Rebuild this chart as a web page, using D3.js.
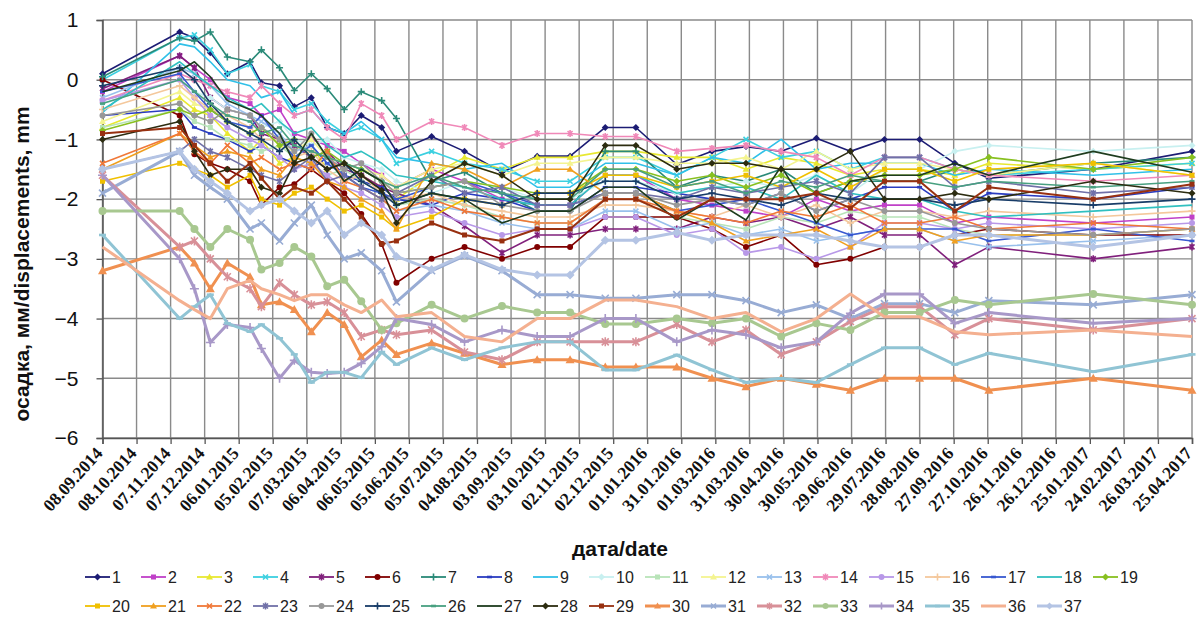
<!DOCTYPE html>
<html lang="ru">
<head>
<meta charset="UTF-8">
<title>Осадка</title>
<script src="https://d3js.org/d3.v7.min.js"></script>
<style>
  body { margin: 0; background: #fff; }
  svg { display: block; font-family: Arial, "Liberation Sans", sans-serif; }
</style>
</head>
<body>
<svg id="chart" width="1197" height="619"></svg>
<script>
// axis ticks (every 30 days)
const tickLabels = ['08.09.2014','08.10.2014','07.11.2014','07.12.2014','06.01.2015','05.02.2015','07.03.2015',
  '06.04.2015','06.05.2015','05.06.2015','05.07.2015','04.08.2015','03.09.2015','03.10.2015','02.11.2015',
  '02.12.2015','01.01.2016','31.01.2016','01.03.2016','31.03.2016','30.04.2016','30.05.2016','29.06.2016',
  '29.07.2016','28.08.2016','27.09.2016','27.10.2016','26.11.2016','26.12.2016','25.01.2017','24.02.2017',
  '26.03.2017','25.04.2017'];
const yTicks = [1, 0, -1, -2, -3, -4, -5, -6];

// measurement dates
const measureDates = ['08.09.2014','15.11.2014','28.11.2014','12.12.2014','27.12.2014','16.01.2015','26.01.2015',
  '11.02.2015','24.02.2015','11.03.2015','25.03.2015','09.04.2015','24.04.2015','12.05.2015','25.05.2015',
  '25.06.2015','24.07.2015','26.08.2015','26.09.2015','25.10.2015','25.11.2015','22.12.2015','27.01.2016',
  '27.02.2016','28.03.2016','28.04.2016','29.05.2016','28.06.2016','28.07.2016','28.08.2016','28.09.2016',
  '28.10.2016','28.01.2017','25.04.2017'];

// settlement, mm (one array per mark)
const s1  = [0.1,0.8,0.7,0.45,0.1,0.3,-0.05,-0.1,-0.45,-0.3,-0.8,-0.9,-0.6,-0.8,-1.2,-0.95,-1.2,-1.55,-1.28,-1.28,-0.8,-0.8,-1.42,-1.2,-1.12,-1.2,-0.98,-1.2,-1.0,-1.0,-1.4,-1.65,-1.5,-1.2];
const s2  = [-0.2,0.4,0.2,0.0,-0.3,-0.4,-0.6,-0.5,-0.9,-1.0,-1.1,-1.2,-1.4,-1.6,-1.8,-1.5,-1.7,-2.0,-2.1,-2.1,-1.6,-1.6,-2.0,-2.1,-2.2,-2.3,-2.0,-2.2,-2.1,-2.1,-2.4,-2.3,-2.4,-2.3];
const s3  = [-0.8,-0.3,-0.5,-0.6,-0.9,-1.2,-1.0,-1.4,-1.3,-1.1,-1.5,-1.4,-1.6,-1.8,-2.0,-1.6,-1.3,-1.5,-1.3,-1.3,-1.2,-1.2,-1.3,-1.3,-1.5,-1.3,-1.4,-1.6,-1.5,-1.5,-1.6,-1.4,-1.5,-1.4];
const s4  = [0.0,0.7,0.75,0.5,0.1,0.25,-0.1,-0.2,-0.5,-0.4,-0.7,-0.9,-0.8,-1.0,-1.4,-1.2,-1.4,-1.5,-1.7,-1.7,-1.3,-1.3,-1.6,-1.3,-1.0,-1.3,-1.2,-1.5,-1.3,-1.3,-1.5,-1.6,-1.5,-1.4];
const s5  = [-0.15,0.4,0.2,-0.3,-0.5,-0.6,-0.9,-1.0,-1.1,-1.3,-1.2,-1.5,-1.6,-1.8,-1.9,-2.1,-2.45,-2.9,-2.6,-2.6,-2.5,-2.5,-2.5,-2.3,-2.4,-2.3,-2.5,-2.3,-2.6,-2.6,-3.1,-2.8,-3.0,-2.8];
const s6  = [0.0,-0.6,-1.25,-1.4,-1.5,-1.7,-2.1,-1.8,-1.75,-1.5,-1.7,-1.9,-2.25,-2.75,-3.4,-3.0,-2.8,-3.0,-2.8,-2.8,-2.3,-2.3,-2.3,-2.5,-2.8,-2.6,-3.1,-3.0,-2.8,-2.8,-2.6,-2.5,-2.6,-2.6];
const s7  = [0.05,0.7,0.65,0.8,0.38,0.3,0.5,0.2,-0.18,0.1,-0.15,-0.5,-0.2,-0.35,-0.65,-1.7,-1.55,-1.9,-2.2,-2.2,-1.2,-1.2,-1.8,-1.6,-1.7,-1.5,-1.9,-1.7,-1.7,-1.7,-1.5,-1.6,-1.4,-1.3];
const s8  = [-0.6,-0.5,-0.8,-0.9,-1.0,-1.2,-1.1,-1.3,-1.4,-1.5,-1.3,-1.6,-1.7,-1.8,-2.0,-2.1,-1.9,-2.0,-2.2,-2.2,-1.8,-1.8,-1.9,-2.0,-2.1,-1.9,-2.2,-2.0,-1.8,-1.8,-2.2,-1.9,-2.0,-1.8];
const s9  = [-0.55,0.6,0.55,0.3,0.0,-0.1,-0.3,-0.2,-0.6,-0.5,-0.8,-0.9,-0.7,-1.0,-1.3,-1.4,-1.5,-1.4,-1.8,-1.8,-1.4,-1.4,-1.6,-1.3,-1.4,-1.0,-1.5,-1.4,-1.4,-1.4,-1.6,-1.5,-1.6,-1.5];
const s10 = [-0.4,0.0,-0.2,-0.3,-0.5,-0.6,-0.8,-0.7,-1.0,-1.1,-1.0,-1.3,-1.4,-1.5,-1.7,-1.9,-1.7,-1.8,-2.0,-2.0,-1.7,-1.7,-1.9,-1.8,-1.7,-1.8,-1.6,-1.9,-1.5,-1.5,-1.2,-1.1,-1.2,-1.1];
const s11 = [-0.8,-0.5,-0.7,-0.8,-1.0,-1.1,-1.2,-1.1,-1.3,-1.4,-1.6,-1.5,-1.7,-1.9,-2.1,-2.0,-2.1,-2.3,-2.4,-2.4,-2.0,-2.0,-2.3,-2.4,-2.5,-2.3,-2.4,-2.2,-2.3,-2.3,-2.5,-2.6,-2.6,-2.5];
const s12 = [-0.7,-0.2,-0.4,-0.5,-0.7,-0.9,-0.8,-1.1,-1.2,-1.0,-1.3,-1.4,-1.5,-1.6,-1.8,-1.5,-1.4,-1.6,-1.4,-1.4,-1.3,-1.3,-1.4,-1.4,-1.3,-1.5,-1.2,-1.5,-1.4,-1.4,-1.5,-1.6,-1.4,-1.6];
const s13 = [-0.3,0.2,0.1,-0.1,-0.4,-0.6,-0.7,-0.9,-1.2,-1.1,-1.4,-1.6,-1.8,-2.0,-2.2,-2.1,-2.2,-2.4,-2.5,-2.5,-2.2,-2.2,-2.5,-2.4,-2.6,-2.5,-2.7,-2.6,-2.5,-2.5,-2.7,-2.8,-2.7,-2.6];
const s14 = [-0.35,0.1,0.0,-0.1,-0.2,-0.3,-0.1,-0.4,-0.6,-0.5,-0.8,-1.0,-0.4,-0.6,-1.0,-0.7,-0.8,-1.1,-0.9,-0.9,-0.95,-0.95,-1.2,-1.15,-1.1,-1.2,-1.3,-1.6,-1.3,-1.3,-1.5,-1.6,-1.7,-1.6];
const s15 = [-0.35,0.0,-0.3,-0.6,-0.8,-1.0,-1.1,-1.3,-1.5,-1.4,-1.6,-1.8,-1.9,-2.1,-2.3,-2.2,-2.4,-2.6,-2.5,-2.5,-2.3,-2.3,-2.6,-2.5,-2.9,-2.8,-3.0,-2.8,-2.4,-2.4,-2.5,-2.4,-2.5,-2.4];
const s16 = [-0.5,-0.1,-0.3,-0.5,-0.6,-0.8,-1.0,-1.0,-1.3,-1.2,-1.5,-1.7,-1.6,-1.9,-2.0,-1.9,-2.1,-2.2,-2.3,-2.3,-2.1,-2.1,-2.2,-2.3,-2.1,-2.3,-2.1,-2.4,-2.2,-2.2,-2.3,-2.2,-2.3,-2.2];
const s17 = [-0.2,0.1,-0.2,-0.5,-0.7,-0.8,-0.6,-1.0,-1.3,-1.1,-1.4,-1.6,-1.8,-1.9,-2.0,-1.8,-1.7,-1.9,-2.1,-2.1,-1.9,-1.9,-2.2,-2.1,-2.0,-2.2,-2.4,-2.6,-2.5,-2.5,-2.5,-2.7,-2.5,-2.7];
const s18 = [-0.5,0.3,0.1,-0.1,-0.3,-0.5,-0.4,-0.7,-0.9,-0.8,-1.1,-1.3,-1.2,-1.4,-1.6,-1.7,-1.8,-2.0,-2.1,-2.1,-1.6,-1.6,-1.9,-1.8,-1.8,-2.0,-1.6,-1.9,-2.0,-2.0,-2.2,-2.3,-2.2,-2.1];
const s19 = [-0.85,-0.5,-0.6,-0.5,-0.7,-0.9,-0.8,-1.1,-1.0,-1.3,-1.2,-1.4,-1.5,-1.7,-1.9,-1.8,-1.7,-1.8,-1.9,-1.9,-1.5,-1.5,-1.7,-1.6,-1.8,-1.6,-1.9,-1.7,-1.6,-1.6,-1.5,-1.3,-1.5,-1.3];
const s20 = [-1.7,-1.4,-1.5,-1.6,-1.8,-1.6,-2.0,-2.1,-1.9,-1.8,-2.0,-2.2,-2.1,-2.3,-2.5,-2.3,-2.0,-2.1,-1.9,-1.9,-1.6,-1.6,-1.8,-1.7,-1.6,-1.8,-1.5,-1.8,-1.5,-1.5,-1.7,-1.5,-1.4,-1.6];
const s21 = [-1.5,-0.9,-1.1,-1.3,-1.2,-1.3,-1.5,-1.6,-1.3,-1.4,-1.7,-1.8,-2.0,-2.2,-2.5,-1.4,-1.5,-1.8,-1.5,-1.5,-1.9,-1.9,-2.2,-2.4,-2.7,-2.6,-2.5,-2.8,-2.5,-2.5,-2.7,-2.6,-2.6,-2.5];
const s22 = [-1.4,-0.9,-1.2,-1.4,-1.1,-1.4,-1.3,-1.5,-1.4,-1.5,-1.2,-1.7,-1.8,-2.0,-2.2,-2.0,-2.2,-2.3,-2.4,-2.4,-2.0,-2.0,-2.2,-2.3,-2.4,-2.2,-2.3,-2.1,-2.4,-2.4,-2.3,-2.5,-2.4,-2.5];
const s23 = [-1.5,-1.2,-1.0,-1.2,-1.3,-1.5,-1.6,-1.7,-1.5,-1.3,-1.7,-1.6,-1.8,-2.0,-1.9,-1.6,-1.9,-1.8,-2.1,-2.1,-1.9,-1.9,-2.0,-1.8,-1.9,-1.8,-1.7,-1.9,-1.3,-1.3,-1.8,-1.7,-1.9,-1.8];
const s24 = [-0.6,-0.4,-0.6,-0.7,-0.5,-0.6,-0.8,-1.0,-1.2,-0.9,-1.3,-1.5,-1.4,-1.7,-1.9,-1.8,-1.7,-2.1,-2.2,-2.2,-1.9,-1.9,-2.1,-2.0,-2.1,-1.9,-2.2,-2.0,-2.2,-2.2,-2.4,-2.5,-2.6,-2.5];
const s25 = [-0.1,0.2,0.0,-0.4,-0.7,-0.9,-1.0,-1.2,-1.0,-1.3,-1.5,-1.4,-1.7,-1.9,-2.1,-1.9,-2.0,-2.1,-1.9,-1.9,-1.7,-1.7,-2.0,-1.9,-2.0,-2.1,-1.9,-2.0,-2.0,-2.0,-2.1,-2.0,-2.1,-2.0];
const s26 = [-0.4,0.0,-0.2,-0.4,-0.6,-0.7,-0.9,-0.8,-1.1,-1.2,-1.3,-1.4,-1.5,-1.7,-1.8,-1.6,-1.8,-1.9,-2.0,-2.0,-1.5,-1.5,-1.8,-1.7,-1.9,-1.7,-1.8,-1.6,-1.7,-1.7,-1.8,-1.7,-1.8,-1.7];
const s27 = [-0.2,0.15,0.3,0.05,-0.35,-0.5,-0.6,-0.9,-1.4,-0.9,-1.3,-1.7,-1.5,-1.7,-2.1,-1.9,-2.0,-2.4,-2.2,-2.2,-1.8,-1.8,-2.35,-2.0,-2.35,-1.45,-2.4,-1.7,-1.6,-1.6,-1.4,-1.6,-1.2,-1.55];
const s28 = [-1.0,-0.7,-1.2,-1.6,-1.5,-1.5,-1.8,-1.9,-1.4,-1.3,-1.5,-1.4,-1.6,-1.85,-2.4,-1.7,-1.4,-1.6,-2.0,-2.0,-1.1,-1.1,-1.5,-1.4,-1.4,-1.5,-1.5,-1.2,-2.0,-2.0,-1.9,-2.0,-1.7,-1.9];
const s29 = [-0.9,-0.8,-1.1,-1.4,-1.7,-1.4,-1.65,-2.0,-1.8,-1.9,-1.7,-2.0,-2.3,-2.75,-2.7,-2.4,-2.6,-2.7,-2.5,-2.5,-2.0,-2.0,-2.3,-2.0,-2.0,-2.0,-1.9,-2.15,-1.7,-1.7,-2.2,-1.8,-2.0,-1.75];
const s30 = [-3.2,-2.8,-3.07,-3.5,-3.07,-3.3,-3.77,-3.72,-3.85,-4.22,-3.9,-4.1,-4.64,-4.36,-4.6,-4.41,-4.58,-4.77,-4.69,-4.69,-4.81,-4.81,-4.81,-5.0,-5.14,-5.0,-5.1,-5.2,-5.0,-5.0,-5.0,-5.2,-5.0,-5.2];
const s31 = [-1.9,-1.2,-1.6,-1.8,-2.0,-2.5,-2.4,-2.7,-2.4,-2.1,-2.6,-3.0,-2.9,-3.2,-3.72,-3.2,-2.95,-3.2,-3.6,-3.6,-3.66,-3.66,-3.6,-3.6,-3.7,-3.9,-3.77,-4.0,-3.75,-3.75,-3.9,-3.7,-3.77,-3.6];
const s32 = [-1.6,-2.8,-2.7,-3.0,-3.3,-3.5,-3.8,-3.4,-3.6,-3.77,-3.72,-3.9,-4.3,-4.19,-4.27,-4.19,-4.56,-4.69,-4.39,-4.39,-4.39,-4.39,-4.1,-4.39,-4.19,-4.6,-4.39,-4.05,-3.8,-3.8,-4.27,-4.0,-4.19,-4.0];
const s33 = [-2.2,-2.2,-2.5,-2.8,-2.5,-2.68,-3.18,-3.07,-2.8,-2.96,-3.46,-3.35,-3.71,-4.19,-4.08,-3.77,-4.0,-3.79,-3.9,-3.9,-4.09,-4.09,-4.0,-4.08,-4.0,-4.3,-4.08,-4.19,-3.9,-3.9,-3.69,-3.77,-3.59,-3.77];
const s34 = [-1.6,-3.0,-3.5,-4.4,-4.1,-4.15,-4.5,-5.0,-4.7,-4.9,-4.92,-4.9,-4.75,-4.47,-4.0,-4.1,-4.39,-4.19,-4.3,-4.3,-4.0,-4.0,-4.39,-4.19,-4.27,-4.49,-4.39,-3.91,-3.59,-3.59,-4.08,-3.9,-4.08,-4.0];
const s35 = [-2.6,-4.0,-3.8,-3.6,-4.08,-4.22,-4.1,-4.33,-4.6,-5.07,-4.9,-4.9,-4.99,-4.56,-4.77,-4.49,-4.69,-4.49,-4.39,-4.39,-4.86,-4.86,-4.61,-4.86,-5.07,-5.0,-5.07,-4.77,-4.49,-4.49,-4.77,-4.58,-4.89,-4.6];
const s36 = [-2.8,-3.7,-3.85,-4.0,-3.5,-3.36,-3.5,-3.6,-3.7,-3.6,-3.6,-3.77,-3.9,-3.69,-3.97,-3.9,-4.3,-4.39,-4.0,-4.0,-3.69,-3.69,-3.8,-4.0,-3.9,-4.22,-4.0,-3.59,-3.97,-3.97,-4.22,-4.27,-4.19,-4.3];
const s37 = [-1.5,-1.2,-1.5,-1.7,-1.9,-2.2,-2.1,-2.0,-2.2,-2.4,-2.2,-2.6,-2.4,-2.6,-2.96,-3.18,-2.93,-3.18,-3.27,-3.27,-2.69,-2.69,-2.56,-2.69,-2.6,-2.6,-2.6,-2.7,-2.8,-2.8,-2.6,-2.6,-2.8,-2.6];
const seriesValues = [s1,s2,s3,s4,s5,s6,s7,s8,s9,s10,s11,s12,s13,s14,s15,s16,s17,s18,s19,s20,
  s21,s22,s23,s24,s25,s26,s27,s28,s29,s30,s31,s32,s33,s34,s35,s36,s37];
const seriesNames = seriesValues.map((_, i) => String(i + 1));

const colors = ['#1c1c74','#c040c8','#e8e830','#3cd0e0','#80207c','#800000','#2a8a78','#2a3cc0','#30c0e8','#c8f0f0',
  '#b8e4b8','#f4f490','#98c0ec','#f088b8','#b898e8','#f4c89c','#3858d0','#30c0c0','#88c020','#f0c000',
  '#f0a020','#f07838','#7070a8','#989898','#183c68','#48a080','#1e3c1e','#2c2c10','#983010','#f09050',
  '#98acd4','#d89098','#a8c890','#a898c8','#90c4d4','#f4b090','#b4c4e4'];
const markerCycle = ['diamond','square','triangle','x','star','circle','plus','dash','none'];

const parse = d3.utcParse('%d.%m.%Y');
const tickDates = tickLabels.map(parse);
const dates = measureDates.map(parse);

const svg = d3.select('#chart');
const plotLeft = 102.5, plotRight = 1192, plotTop = 20, plotBottom = 438;

const x = d3.scaleUtc().domain([tickDates[0], tickDates[tickDates.length - 1]]).range([plotLeft, plotRight]);
const y = d3.scaleLinear().domain([-6, 1]).range([plotBottom, plotTop]);

// grid
const grid = svg.append('g').attr('stroke', '#8a8a8a').attr('stroke-width', 1.4);
grid.selectAll('line.v').data(tickDates).join('line').attr('class', 'v')
  .attr('x1', d => x(d)).attr('x2', d => x(d)).attr('y1', plotTop).attr('y2', plotBottom);
grid.selectAll('line.h').data(yTicks).join('line').attr('class', 'h')
  .attr('x1', plotLeft).attr('x2', plotRight).attr('y1', d => y(d)).attr('y2', d => y(d));

// axes
const xAxis = svg.append('g').attr('transform', `translate(0,${plotBottom})`)
  .call(d3.axisBottom(x).tickValues(tickDates).tickSize(6).tickFormat(d3.utcFormat('%d.%m.%Y')));
xAxis.select('.domain').attr('stroke', '#555').attr('stroke-width', 1.5);
xAxis.selectAll('.tick line').attr('stroke', '#555').attr('stroke-width', 1.3);
xAxis.selectAll('.tick text')
  .attr('font-family', '"Liberation Serif", "Times New Roman", serif')
  .attr('font-size', 17.5).attr('font-weight', 'bold').attr('fill', '#111')
  .attr('text-anchor', 'end')
  .attr('transform', 'translate(-4,12) rotate(-48)')
  .attr('dy', '0.35em').attr('y', 0).attr('x', 0);

const yAxis = svg.append('g').attr('transform', `translate(${plotLeft},0)`)
  .call(d3.axisLeft(y).tickValues(yTicks).tickSize(6).tickPadding(18).tickFormat(d3.format('d')));
yAxis.select('.domain').attr('stroke', '#555').attr('stroke-width', 1.5);
yAxis.selectAll('.tick line').attr('stroke', '#555').attr('stroke-width', 1.3);
yAxis.selectAll('.tick text').attr('font-size', 21).attr('fill', '#111');

// titles
svg.append('text')
  .attr('transform', 'translate(29,264) rotate(-90)')
  .attr('text-anchor', 'middle').attr('font-size', 21).attr('font-weight', 'bold').attr('fill', '#111')
  .text('осадка, мм/displacements, mm');
svg.append('text')
  .attr('x', 620).attr('y', 556).attr('text-anchor', 'middle')
  .attr('font-size', 21).attr('font-weight', 'bold').attr('fill', '#111')
  .text('дата/date');

// markers
function drawMarker(g, type, color, s) {
  const h = s / 2;
  if (type === 'diamond') g.append('path').attr('d', `M0,${-h - 1}L${h + 1},0L0,${h + 1}L${-h - 1},0Z`).attr('fill', color);
  else if (type === 'square') g.append('rect').attr('x', -h).attr('y', -h).attr('width', s).attr('height', s).attr('fill', color);
  else if (type === 'triangle') g.append('path').attr('d', `M0,${-h - 1}L${h + 1},${h}L${-h - 1},${h}Z`).attr('fill', color);
  else if (type === 'circle') g.append('circle').attr('r', h + 0.5).attr('fill', color);
  else if (type === 'x') g.append('path').attr('d', `M${-h},${-h}L${h},${h}M${-h},${h}L${h},${-h}`).attr('stroke', color).attr('stroke-width', 1.6);
  else if (type === 'star') g.append('path').attr('d', `M${-h},${-h}L${h},${h}M${-h},${h}L${h},${-h}M0,${-h - 1}L0,${h + 1}`).attr('stroke', color).attr('stroke-width', 1.6);
  else if (type === 'plus') g.append('path').attr('d', `M${-h - 1},0L${h + 1},0M0,${-h - 1}L0,${h + 1}`).attr('stroke', color).attr('stroke-width', 1.6);
  else if (type === 'dash') g.append('path').attr('d', `M${-h},0L${h},0`).attr('stroke', color).attr('stroke-width', 2.6);
}

const line = d3.line().x(d => x(d.date)).y(d => y(d.v));
const plot = svg.append('g');
seriesValues.forEach((vals, i) => {
  const color = colors[i];
  const thick = i >= 29;
  const pts = vals.map((v, j) => ({ date: dates[j], v }));
  const g = plot.append('g');
  g.append('path').datum(pts).attr('d', line)
    .attr('fill', 'none').attr('stroke', color)
    .attr('stroke-width', thick ? 3 : (i === 28 ? 2 : 1.6))
    .attr('stroke-linejoin', 'round');
  const type = markerCycle[i % markerCycle.length];
  g.selectAll('g.m').data(pts).join('g').attr('class', 'm')
    .attr('transform', d => `translate(${x(d.date)},${y(d.v)})`)
    .each(function () { drawMarker(d3.select(this), type, color, thick ? 7 : 5); });
});

// legend
const legend = svg.append('g');
seriesNames.forEach((name, i) => {
  const row = i < 19 ? 0 : 1;
  const col = row === 0 ? i : i - 19;
  const lx = 85 + col * 56, ly = row === 0 ? 577 : 606;
  const g = legend.append('g').attr('transform', `translate(${lx},${ly})`);
  g.append('line').attr('x1', 0).attr('x2', 25).attr('stroke', colors[i]).attr('stroke-width', i >= 29 ? 3 : 1.8);
  const m = g.append('g').attr('transform', 'translate(12.5,0)');
  drawMarker(m, markerCycle[i % markerCycle.length], colors[i], 5);
  g.append('text').attr('x', 27).attr('y', 6).attr('font-size', 16).attr('fill', '#222').text(name);
});
</script>
</body>
</html>
